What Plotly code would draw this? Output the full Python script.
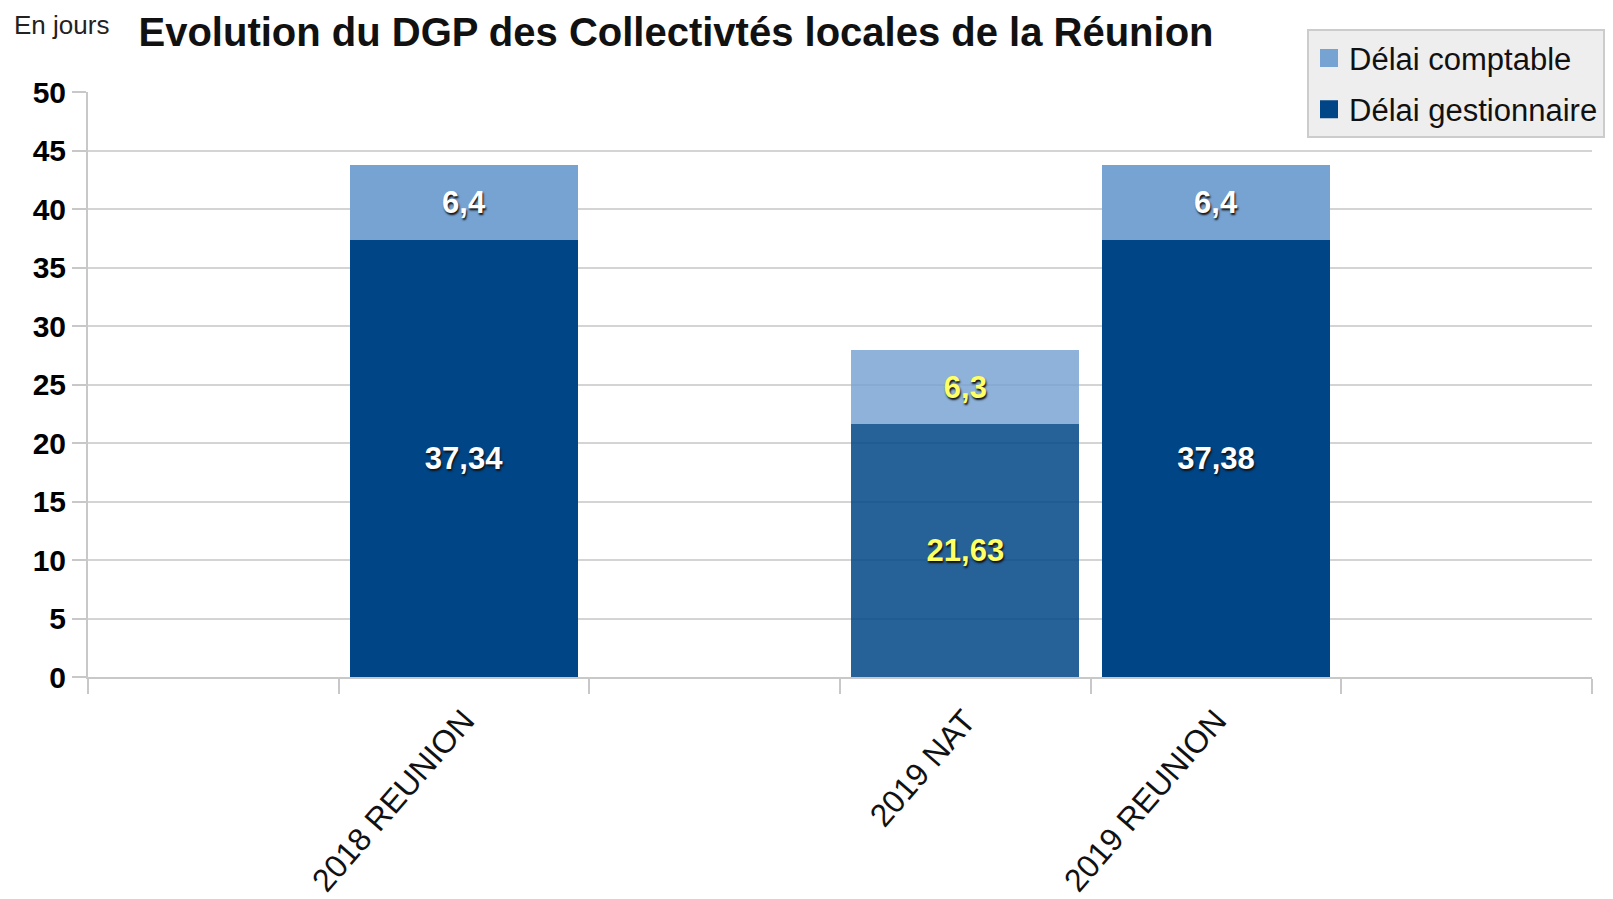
import plotly.graph_objects as go

# Data
slots = [0, 1, 2, 3, 4, 5]
categories = ["2018 REUNION", "2019 NAT", "2019 REUNION"]
cat_pos = [1, 3, 4]
delai_gestionnaire = [37.34, 21.63, 37.38]
delai_comptable = [6.4, 6.3, 6.4]
gest_labels = ["37,34", "21,63", "37,38"]
compt_labels = ["6,4", "6,3", "6,4"]
y_ticks = [0, 5, 10, 15, 20, 25, 30, 35, 40, 45, 50]

DARK = "#004586"
LIGHT = "#77a3d2"
gest_colors = [DARK, "rgba(0,69,134,0.85)", DARK]
compt_colors = [LIGHT, "rgba(114,159,207,0.8)", LIGHT]
text_colors = ["white", "#ffff66", "white"]

FONT = "Liberation Sans, Arial, sans-serif"

# figure size (page has an 8px body margin)
W, H = 1605, 891
# plot area in figure pixels
L, R, T, B = 80, 1584, 83.7, 669
PW, PH = R - L, B - T

fig = go.Figure()
fig.add_trace(go.Bar(
    x=cat_pos, y=delai_gestionnaire, name="Délai gestionnaire", showlegend=False,
    marker=dict(color=gest_colors, line=dict(width=0)),
    width=0.91, text=gest_labels, textposition="inside",
    insidetextanchor="middle", textangle=0, constraintext="none",
    textfont=dict(family=FONT, size=31, color=text_colors, weight="bold",
                  shadow="1px 2px 2px #111"),
    hoverinfo="skip",
))
fig.add_trace(go.Bar(
    x=cat_pos, y=delai_comptable, name="Délai comptable", showlegend=False,
    marker=dict(color=compt_colors, line=dict(width=0)),
    width=0.91, text=compt_labels, textposition="inside",
    insidetextanchor="middle", textangle=0, constraintext="none",
    textfont=dict(family=FONT, size=31, color=text_colors, weight="bold",
                  shadow="1px 2px 2px #111"),
    hoverinfo="skip",
))
# legend entries (square swatches)
for nm, col in [("Délai comptable", LIGHT), ("Délai gestionnaire", DARK)]:
    fig.add_trace(go.Scatter(
        x=[None], y=[None], mode="markers", name=nm, legendgroup=nm,
        marker=dict(symbol="square", size=16, color=col, line=dict(color=col, width=2)),
    ))

fig.update_layout(
    barmode="stack",
    width=W, height=H,
    margin=dict(l=L, r=W - R, t=T, b=H - B, autoexpand=False),
    paper_bgcolor="white", plot_bgcolor="white",
    font=dict(family=FONT, color="black"),
    title=dict(text="<b>Evolution du DGP des Collectivtés locales de la Réunion</b>",
               font=dict(family=FONT, size=40, color="#111"),
               x=668 / W, xanchor="center", y=1 - 24 / H, yanchor="middle"),
    legend=dict(
        x=(1597 - L) / PW, xanchor="right",
        y=(B - 21) / PH, yanchor="top",
        bgcolor="#eeeeee", bordercolor="#cccccc", borderwidth=2,
        font=dict(family=FONT, size=31, color="#111"),
        traceorder="grouped", itemwidth=30, tracegroupgap=8,
    ),
    xaxis=dict(
        range=[-0.5, 5.5], tickmode="array", tickvals=cat_pos, ticktext=categories,
        tickangle=-49, ticks="outside", ticklen=10, tickcolor="rgba(0,0,0,0)",
        tickfont=dict(family=FONT, size=32, color="#111"),
        showgrid=False, showline=True, linecolor="#c8c8c8", linewidth=2,
        zeroline=False, automargin=False,
        minor=dict(tickmode="array", tickvals=[s - 0.5 for s in slots] + [5.5],
                   ticks="outside", ticklen=15, tickcolor="#c8c8c8", tickwidth=2,
                   showgrid=False),
    ),
    yaxis=dict(
        range=[0, 50], tickmode="array", tickvals=y_ticks,
        ticks="outside", ticklen=14, tickcolor="#c8c8c8", tickwidth=2,
        tickfont=dict(family=FONT, size=30, color="black", weight="bold"),
        showgrid=True, gridcolor="#d4d4d4", gridwidth=2,
        showline=True, linecolor="#c8c8c8", linewidth=2, zeroline=False,
        automargin=False,
    ),
    annotations=[dict(text="En jours", x=(4 - L) / PW, y=(B - 17) / PH,
                      xref="paper", yref="paper", xanchor="left", yanchor="middle",
                      showarrow=False, font=dict(family=FONT, size=26, color="#222"))],
)

fig.write_html("out.html")
